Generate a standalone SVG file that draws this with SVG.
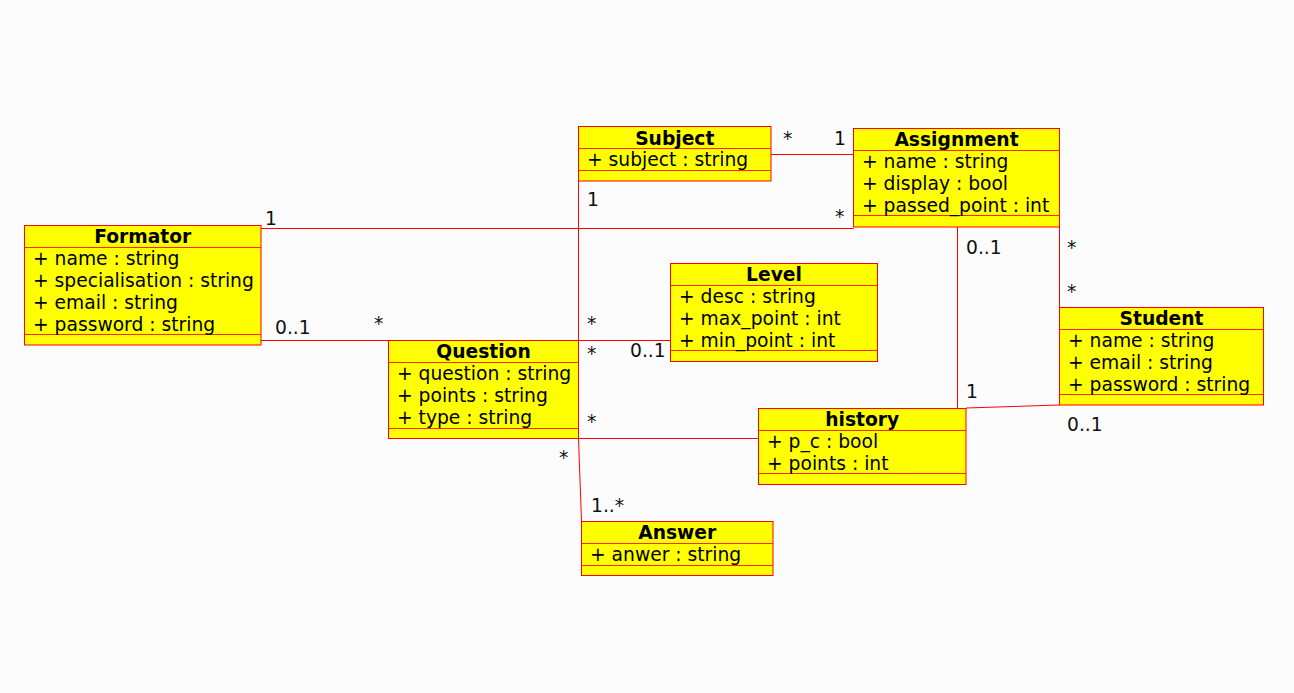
<svg xmlns="http://www.w3.org/2000/svg" width="1294" height="693" viewBox="0 0 1294 693">
<style>
  .bg { fill: #fcfcfc; }
  .box { fill: #ffff00; stroke: #ff0000; stroke-width: 1; }
  .sep { stroke: #ff2a00; stroke-width: 1; fill: none; }
  .conn { stroke: #ff0000; stroke-width: 1; fill: none; }
  text { font-family: "DejaVu Sans", "Liberation Sans", sans-serif; font-size: 18.7px; fill: #000; }
  .title { font-weight: bold; text-anchor: middle; }
  .mult { fill: #111; }
</style>
<rect class="bg" x="0" y="0" width="1294" height="693"/>

<g id="connectors">
  <path class="conn" d="M771,154.5 H853.5"/>
  <path class="conn" d="M261,228.5 H853.5"/>
  <path class="conn" d="M261,340.5 H388.5"/>
  <path class="conn" d="M578.5,181 V340.5"/>
  <path class="conn" d="M578.5,340.5 H670.5"/>
  <path class="conn" d="M578.5,438.5 H758.5"/>
  <path class="conn" d="M578.5,438.5 L581.5,521"/>
  <path class="conn" d="M957.5,227 V408"/>
  <path class="conn" d="M1059.5,227 V307"/>
  <path class="conn" d="M966,408 L1059.5,405"/>
</g>

<g id="labels">
  <text class="mult" x="783" y="145">*</text>
  <text class="mult" x="834" y="145">1</text>
  <text class="mult" x="587" y="206">1</text>
  <text class="mult" x="835" y="223">*</text>
  <text class="mult" x="265" y="225">1</text>
  <text class="mult" x="275" y="334">0..1</text>
  <text class="mult" x="374" y="330">*</text>
  <text class="mult" x="587" y="330">*</text>
  <text class="mult" x="587" y="360">*</text>
  <text class="mult" x="630" y="357">0..1</text>
  <text class="mult" x="587" y="428">*</text>
  <text class="mult" x="559" y="464">*</text>
  <text class="mult" x="591" y="512">1..*</text>
  <text class="mult" x="966" y="254">0..1</text>
  <text class="mult" x="966" y="398">1</text>
  <text class="mult" x="1067" y="254">*</text>
  <text class="mult" x="1067" y="298">*</text>
  <text class="mult" x="1067" y="431">0..1</text>
</g>

<g id="Formator">
  <rect class="box" x="24.5" y="225.5" width="236.5" height="119.5"/>
  <path class="sep" d="M24.5,247.5 H261 M24.5,334.5 H261"/>
  <text class="title" x="142.75" y="243.3">Formator</text>
  <text x="33" y="265">+ name : string</text>
  <text x="33" y="287">+ specialisation : string</text>
  <text x="33" y="309">+ email : string</text>
  <text x="33" y="331">+ password : string</text>
</g>

<g id="Subject">
  <rect class="box" x="578.5" y="126.5" width="192.5" height="54.5"/>
  <path class="sep" d="M578.5,148.5 H771 M578.5,170.5 H771"/>
  <text class="title" x="674.75" y="144.5">Subject</text>
  <text x="587" y="166">+ subject : string</text>
</g>

<g id="Assignment">
  <rect class="box" x="853.5" y="128.5" width="206" height="98.5"/>
  <path class="sep" d="M853.5,150.5 H1059.5 M853.5,215.5 H1059.5"/>
  <text class="title" x="956.5" y="146">Assignment</text>
  <text x="862" y="167.5">+ name : string</text>
  <text x="862" y="189.5">+ display : bool</text>
  <text x="862" y="211.5">+ passed_point : int</text>
</g>

<g id="Level">
  <rect class="box" x="670.5" y="263.5" width="207" height="98"/>
  <path class="sep" d="M670.5,285.5 H877.5 M670.5,350.5 H877.5"/>
  <text class="title" x="774" y="281">Level</text>
  <text x="679" y="302.5">+ desc : string</text>
  <text x="679" y="324.5">+ max_point : int</text>
  <text x="679" y="346.5">+ min_point : int</text>
</g>

<g id="Question">
  <rect class="box" x="388.5" y="340.5" width="190" height="98"/>
  <path class="sep" d="M388.5,362.5 H578.5 M388.5,428.5 H578.5"/>
  <text class="title" x="483.5" y="358.4">Question</text>
  <text x="397" y="380">+ question : string</text>
  <text x="397" y="402">+ points : string</text>
  <text x="397" y="424">+ type : string</text>
</g>

<g id="Student">
  <rect class="box" x="1059.5" y="307.5" width="204" height="97.5"/>
  <path class="sep" d="M1059.5,329.5 H1263.5 M1059.5,394.5 H1263.5"/>
  <text class="title" x="1161.5" y="325">Student</text>
  <text x="1068" y="346.5">+ name : string</text>
  <text x="1068" y="368.5">+ email : string</text>
  <text x="1068" y="390.5">+ password : string</text>
</g>

<g id="history">
  <rect class="box" x="758.5" y="408.5" width="207.5" height="76"/>
  <path class="sep" d="M758.5,430.5 H966 M758.5,473.5 H966"/>
  <text class="title" x="862.25" y="426">history</text>
  <text x="767" y="447.5">+ p_c : bool</text>
  <text x="767" y="469.5">+ points : int</text>
</g>

<g id="Answer">
  <rect class="box" x="581.5" y="521.5" width="191.5" height="54"/>
  <path class="sep" d="M581.5,543.5 H773 M581.5,565.5 H773"/>
  <text class="title" x="677.25" y="539">Answer</text>
  <text x="590" y="561">+ anwer : string</text>
</g>
</svg>
